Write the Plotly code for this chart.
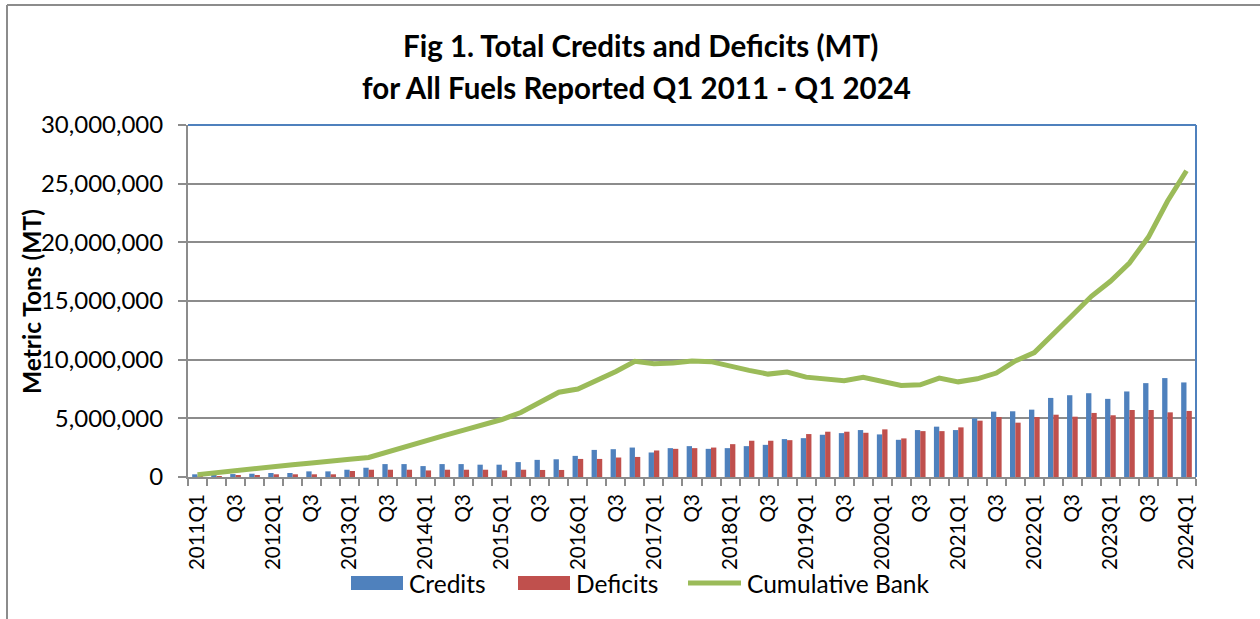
import plotly.graph_objects as go

quarters = []
for yr in range(2011, 2025):
    for q in range(1, 5):
        quarters.append(f"{yr}Q{q}")
quarters = quarters[:53]

credits_m = [0.23, 0.10, 0.25, 0.28, 0.34, 0.34, 0.48, 0.48, 0.62, 0.79,
             1.10, 1.10, 0.93, 1.10, 1.10, 1.05, 1.05, 1.27, 1.46, 1.51,
             1.80, 2.31, 2.37, 2.51, 2.09, 2.46, 2.63, 2.40, 2.46, 2.63,
             2.74, 3.23, 3.31, 3.60, 3.74, 4.00, 3.63, 3.17, 4.00, 4.29,
             4.00, 5.00, 5.57, 5.60, 5.74, 6.74, 6.97, 7.14, 6.66, 7.29,
             8.00, 8.43, 8.06]
deficits_m = [0.05, 0.06, 0.14, 0.14, 0.23, 0.23, 0.23, 0.23, 0.51, 0.62,
              0.62, 0.62, 0.56, 0.62, 0.62, 0.62, 0.56, 0.62, 0.60, 0.60,
              1.54, 1.54, 1.66, 1.71, 2.26, 2.40, 2.46, 2.51, 2.80, 3.09,
              3.09, 3.14, 3.66, 3.86, 3.86, 3.77, 4.06, 3.29, 3.91, 3.91,
              4.23, 4.80, 5.11, 4.63, 5.11, 5.31, 5.14, 5.46, 5.26, 5.71,
              5.71, 5.51, 5.63]
bank_m = [0.20, 0.37, 0.58, 0.80, 0.95, 1.05, 1.20, 1.40, 1.52, 1.67,
          2.14, 2.70, 3.12, 3.55, 4.00, 4.40, 4.90, 5.50, 6.37, 7.23,
          7.50, 8.20, 9.00, 9.86, 9.66, 9.71, 9.89, 9.83, 9.43, 9.09,
          8.77, 8.94, 8.51, 8.31, 8.20, 8.50, 8.17, 7.80, 7.86, 8.43,
          8.11, 8.37, 8.86, 9.89, 10.60, 12.13, 13.78, 15.40, 16.68, 18.24,
          20.45, 23.50, 26.10]

credits = [v * 1e6 for v in credits_m]
deficits = [v * 1e6 for v in deficits_m]
bank = [v * 1e6 for v in bank_m]
xs = list(range(len(quarters)))
tick_idx = xs[::2]
tick_txt = [quarters[i] if quarters[i].endswith("Q1") else quarters[i][-2:] for i in tick_idx]

BLUE = "#4F81BD"
RED = "#C0504D"
GREEN = "#9BBB59"
GRID = "#8C8C8C"
FONT = "Lato, 'Open Sans', sans-serif"

W, H = 1260, 619
L, R, T, B = 188, 64, 125, 142
PW, PH = W - L - R, H - T - B

def px(x):
    return (x - L) / PW

def py(y):
    return (H - B - y) / PH

fig = go.Figure()
fig.add_trace(go.Bar(x=xs, y=credits, name="Credits", marker=dict(color=BLUE, line=dict(width=0))))
fig.add_trace(go.Bar(x=xs, y=deficits, name="Deficits", marker=dict(color=RED, line=dict(width=0))))
fig.add_trace(go.Scatter(x=xs, y=bank, name="Cumulative Bank", mode="lines",
                         line=dict(color=GREEN, width=5)))

shapes = [
    dict(type="line", xref="paper", yref="paper", x0=px(7), x1=px(7), y0=py(5), y1=py(H + 5),
         line=dict(color="#8C8C8C", width=2)),
    dict(type="line", xref="paper", yref="paper", x0=px(7), x1=px(W + 5), y0=py(5), y1=py(5),
         line=dict(color="#8C8C8C", width=2)),
    dict(type="line", xref="paper", yref="paper", x0=0, x1=1, y0=1, y1=1,
         line=dict(color=BLUE, width=2)),
    dict(type="line", xref="paper", yref="paper", x0=1, x1=1, y0=0, y1=1,
         line=dict(color=BLUE, width=2)),
    dict(type="rect", xref="paper", yref="paper", x0=px(351), x1=px(403), y0=py(590), y1=py(576),
         fillcolor=BLUE, line=dict(width=0)),
    dict(type="rect", xref="paper", yref="paper", x0=px(518), x1=px(570), y0=py(590), y1=py(576),
         fillcolor=RED, line=dict(width=0)),
    dict(type="line", xref="paper", yref="paper", x0=px(688), x1=px(741), y0=py(583), y1=py(583),
         line=dict(color=GREEN, width=5)),
]

annotations = [
    dict(text="<b>Fig 1. Total Credits and Deficits (MT)</b>", xref="paper", yref="paper",
         x=px(640), y=py(45), xanchor="center", yanchor="middle", showarrow=False,
         font=dict(family=FONT, size=29.5, color="#000000")),
    dict(text="<b>for All Fuels Reported Q1 2011 - Q1 2024</b>", xref="paper", yref="paper",
         x=px(636), y=py(87), xanchor="center", yanchor="middle", showarrow=False,
         font=dict(family=FONT, size=29.5, color="#000000")),
    dict(text="<b>Metric Tons (MT)</b>", xref="paper", yref="paper", textangle=-90,
         x=px(31), y=py(302), xanchor="center", yanchor="middle", showarrow=False,
         font=dict(family=FONT, size=24.5, color="#000000")),
    dict(text="Credits", xref="paper", yref="paper", x=px(407), y=py(583),
         xanchor="left", yanchor="middle", showarrow=False,
         font=dict(family=FONT, size=24.5, color="#000000")),
    dict(text="Deficits", xref="paper", yref="paper", x=px(574), y=py(583),
         xanchor="left", yanchor="middle", showarrow=False,
         font=dict(family=FONT, size=24.5, color="#000000")),
    dict(text="Cumulative Bank", xref="paper", yref="paper", x=px(745), y=py(583),
         xanchor="left", yanchor="middle", showarrow=False,
         font=dict(family=FONT, size=24.5, color="#000000")),
]

fig.update_layout(
    width=W, height=H,
    margin=dict(l=L, r=R, t=T, b=B, pad=0),
    paper_bgcolor="white", plot_bgcolor="white",
    showlegend=False,
    barmode="group", bargap=0.44, bargroupgap=0,
    font=dict(family=FONT, color="#000000"),
    shapes=shapes, annotations=annotations,
    xaxis=dict(
        range=[-0.5, len(xs) - 0.5],
        tickmode="array", tickvals=tick_idx, ticktext=tick_txt,
        tickangle=-90, ticks="outside", ticklen=7, tickcolor="rgba(0,0,0,0)",
        tickfont=dict(family=FONT, size=20.5, color="#000000"),
        showline=True, linecolor=GRID, linewidth=2,
        showgrid=False, zeroline=False,
        minor=dict(tickmode="linear", tick0=-0.5, dtick=1, ticks="outside",
                   ticklen=7, tickwidth=2, tickcolor=GRID, showgrid=False),
    ),
    yaxis=dict(
        range=[0, 30e6], dtick=5e6, tick0=0, tickformat=",d",
        ticks="outside", ticklen=8, tickwidth=2, tickcolor=GRID,
        tickfont=dict(family=FONT, size=24, color="#000000"),
        ticklabelstandoff=10,
        showline=True, linecolor=GRID, linewidth=2,
        showgrid=True, gridcolor=GRID, gridwidth=2, zeroline=False,
    ),
)

fig.write_html("out.html")
